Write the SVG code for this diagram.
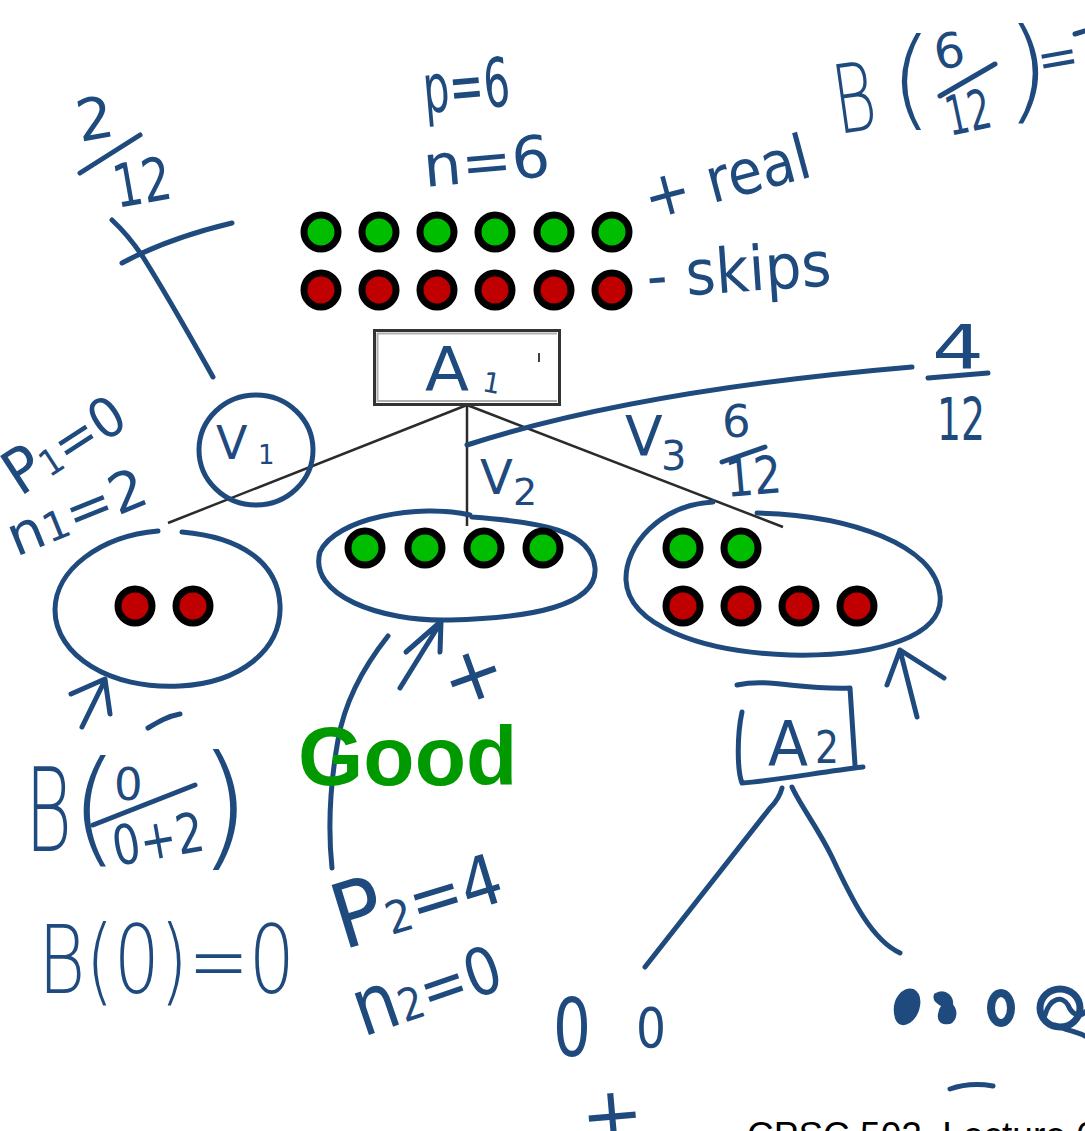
<svg xmlns="http://www.w3.org/2000/svg" width="1085" height="1131" viewBox="0 0 1085 1131">
<style>
.pos{fill:#00bd00;stroke:#000;stroke-width:7}
.neg{fill:#c00000;stroke:#000;stroke-width:7}
.edge{stroke:#2b2b2b;stroke-width:2.5;fill:none}
.ink{fill:none;stroke:#1f4a7e;stroke-width:5;stroke-linecap:round;stroke-linejoin:round}
.hw{font-family:"DejaVu Sans","Liberation Sans",sans-serif;fill:#1f4a7e}
.thin{font-weight:200}
.print{font-family:"Liberation Sans",Arial,sans-serif}
</style>
<rect width="1085" height="1131" fill="#fff"/>

<g id="connectors">
  <line class="edge" x1="467" y1="405" x2="168" y2="523"/>
  <line class="edge" x1="467" y1="405" x2="467" y2="526"/>
  <line class="edge" x1="467" y1="405" x2="783" y2="527"/>
  <path class="ink" d="M782 788 C780 796 776 802 770 808 L645 967"/>
  <path class="ink" d="M792 787 C800 805 818 828 832 857 C852 900 872 940 900 953"/>
</g>

<g id="node-examples">
  <circle class="pos" cx="321" cy="232" r="17"/>
  <circle class="pos" cx="379" cy="232" r="17"/>
  <circle class="pos" cx="437" cy="232" r="17"/>
  <circle class="pos" cx="495" cy="232" r="17"/>
  <circle class="pos" cx="554" cy="232" r="17"/>
  <circle class="pos" cx="612" cy="232" r="17"/>
  <circle class="neg" cx="321" cy="290" r="17"/>
  <circle class="neg" cx="379" cy="290" r="17"/>
  <circle class="neg" cx="437" cy="290" r="17"/>
  <circle class="neg" cx="495" cy="290" r="17"/>
  <circle class="neg" cx="554" cy="290" r="17"/>
  <circle class="neg" cx="612" cy="290" r="17"/>
  <text class="hw" x="425" y="113" font-size="68" textLength="87" lengthAdjust="spacingAndGlyphs" transform="rotate(-5 425 113)">p=6</text>
  <text class="hw" x="425" y="187" font-size="58" textLength="127" lengthAdjust="spacingAndGlyphs" transform="rotate(-5 425 187)">n=6</text>
  <text class="hw" x="650" y="220" font-size="62" textLength="170" lengthAdjust="spacingAndGlyphs" transform="rotate(-15 650 220)">+ real</text>
  <text class="hw" x="648" y="298" font-size="62" textLength="185" lengthAdjust="spacingAndGlyphs" transform="rotate(-4 648 298)">- skips</text>
</g>

<g id="node-A1">
  <rect x="374.5" y="330.5" width="185" height="74" fill="#fff" stroke="#333" stroke-width="3"/>
  <path d="M377 333.5 H557 M377.5 333 V402 M377 401 H557" stroke="#b0b0b0" stroke-width="2" fill="none"/>
  <line x1="539" y1="353" x2="539" y2="362" stroke="#000" stroke-width="1.5"/>
  <text class="hw" x="425" y="390" font-size="60" textLength="44" lengthAdjust="spacingAndGlyphs">A</text>
  <text class="hw" x="483" y="392" font-size="28" transform="rotate(10 488 382)">1</text>
</g>

<g id="node-v1">
  <path class="ink" d="M158 531 C100 536 55 570 55 610 C55 655 110 690 180 686 C240 683 282 650 280 605 C278 562 240 537 182 532"/>
  <circle class="neg" cx="135" cy="606" r="17"/>
  <circle class="neg" cx="193" cy="606" r="17"/>
  <ellipse class="ink" cx="256" cy="450" rx="57" ry="55"/>
  <text class="hw" x="216" y="459" font-size="46">V</text>
  <text class="hw" x="258" y="464" font-size="26">1</text>
</g>

<g id="node-v2">
  <path class="ink" d="M470 515 C420 503 335 518 320 552 C308 595 380 622 450 620 C530 618 598 606 595 568 C592 530 540 522 472 517"/>
  <circle class="pos" cx="365" cy="548" r="17"/>
  <circle class="pos" cx="425" cy="548" r="17"/>
  <circle class="pos" cx="484" cy="548" r="17"/>
  <circle class="pos" cx="543" cy="548" r="17"/>
  <text class="hw" x="480" y="494" font-size="48">V</text>
  <text class="hw" x="513" y="505" font-size="38">2</text>
</g>

<g id="node-v3">
  <path class="ink" d="M713 502 C660 505 625 545 626 580 C628 625 700 652 790 655 C880 657 945 635 940 595 C935 545 850 515 757 513"/>
  <circle class="pos" cx="683" cy="548" r="17"/>
  <circle class="pos" cx="741" cy="548" r="17"/>
  <circle class="neg" cx="683" cy="606" r="17"/>
  <circle class="neg" cx="741" cy="606" r="17"/>
  <circle class="neg" cx="799" cy="606" r="17"/>
  <circle class="neg" cx="857" cy="606" r="17"/>
  <text class="hw" x="625" y="455" font-size="55">V</text>
  <text class="hw" x="661" y="470" font-size="40">3</text>
</g>

<g id="node-A2">
  <path class="ink" d="M737 685 C770 678 800 690 850 688 L855 765 M863 767 C820 772 780 780 742 783 C737 770 737 735 742 712"/>
  <text class="hw" x="768" y="766" font-size="62" textLength="40" lengthAdjust="spacingAndGlyphs">A</text>
  <text class="hw" x="815" y="763" font-size="45" textLength="24" lengthAdjust="spacingAndGlyphs">2</text>
</g>

<g id="annotations">
  <text class="hw" x="80" y="142" font-size="58" transform="rotate(-10 80 142)">2</text>
  <path class="ink" d="M80 173 L140 135"/>
  <text class="hw" x="117" y="208" font-size="60" textLength="58" lengthAdjust="spacingAndGlyphs" transform="rotate(-10 117 208)">12</text>
  <path class="ink" d="M112 220 C125 232 135 245 143 257 C170 300 195 345 213 377"/>
  <path class="ink" d="M122 263 C150 248 190 233 232 223"/>

  <text class="hw thin" x="838" y="134" font-size="95" textLength="42" lengthAdjust="spacingAndGlyphs" transform="rotate(-8 838 134)">B</text>
  <text class="hw thin" x="890" y="116" font-size="108">(</text>
  <text class="hw" x="937" y="70" font-size="48" transform="rotate(-10 937 70)">6</text>
  <path class="ink" d="M940 96 L995 64"/>
  <text class="hw" x="950" y="136" font-size="55" textLength="45" lengthAdjust="spacingAndGlyphs" transform="rotate(-12 950 136)">12</text>
  <text class="hw thin" x="1006" y="108" font-size="112">)</text>
  <text class="hw" x="1040" y="78" font-size="50" transform="rotate(-10 1040 78)">=</text>
  <path class="ink" d="M1075 34 L1085 31"/>

  <path class="ink" d="M467 445 C560 415 700 385 912 367"/>
  <text class="hw" x="932" y="368" font-size="60" textLength="52" lengthAdjust="spacingAndGlyphs">4</text>
  <path class="ink" d="M928 378 L988 373"/>
  <text class="hw" x="937" y="440" font-size="58" textLength="48" lengthAdjust="spacingAndGlyphs">12</text>

  <text class="hw" x="722" y="437" font-size="45">6</text>
  <path class="ink" d="M722 462 L765 447"/>
  <text class="hw" x="727" y="497" font-size="52" textLength="56" lengthAdjust="spacingAndGlyphs" transform="rotate(-5 727 497)">12</text>

  <text class="hw" x="20" y="497" font-size="55" textLength="132" lengthAdjust="spacingAndGlyphs" transform="rotate(-33 20 497)"><tspan font-size="62">P</tspan><tspan font-size="36">1</tspan>=0</text>
  <text class="hw" x="16" y="557" font-size="55" textLength="146" lengthAdjust="spacingAndGlyphs" transform="rotate(-22 16 557)">n<tspan font-size="40">1</tspan>=2</text>

  <path class="ink" d="M82 727 L105 680 M71 694 L105 679 L110 714"/>
  <path class="ink" d="M148 728 C158 722 168 716 180 714"/>
  <text class="hw thin" x="25" y="851" font-size="115" textLength="47" lengthAdjust="spacingAndGlyphs">B</text>
  <text class="hw thin" x="70" y="850" font-size="125">(</text>
  <text class="hw" x="114" y="800" font-size="45">0</text>
  <path class="ink" d="M93 825 L195 785"/>
  <text class="hw" x="116" y="866" font-size="55" textLength="92" lengthAdjust="spacingAndGlyphs" transform="rotate(-10 116 866)">0+2</text>
  <text class="hw thin" x="198" y="852" font-size="135">)</text>
  <text class="hw thin" x="38" y="993" font-size="95" textLength="257" lengthAdjust="spacingAndGlyphs">B(0)=0</text>

  <path class="ink" d="M400 688 L441 622 M406 652 L438 624 M441 622 L440 652"/>
  <path class="ink" d="M388 636 C365 665 345 700 338 740 C330 785 328 830 332 868"/>
  <text class="hw" x="473" y="700" font-size="75" text-anchor="middle" transform="rotate(-20 473 675)">+</text>
  <text class="print" x="298" y="785" font-size="84" font-weight="bold" fill="#009900">Good</text>
  <text class="hw" x="343" y="950" font-size="70" textLength="172" lengthAdjust="spacingAndGlyphs" transform="rotate(-17 343 950)"><tspan font-size="90">P</tspan><tspan font-size="45">2</tspan>=4</text>
  <text class="hw" x="363" y="1037" font-size="65" textLength="152" lengthAdjust="spacingAndGlyphs" transform="rotate(-19 363 1037)"><tspan font-size="80">n</tspan><tspan font-size="45">2</tspan>=0</text>

  <path class="ink" d="M917 717 L900 650 M887 685 L900 650 L944 678"/>

  <text class="hw" x="553" y="1056" font-size="80" textLength="38" lengthAdjust="spacingAndGlyphs">0</text>
  <text class="hw" x="636" y="1047" font-size="55" textLength="30" lengthAdjust="spacingAndGlyphs">0</text>
  <text class="hw" x="612" y="1140" font-size="75" text-anchor="middle" transform="rotate(-5 612 1115)">+</text>
  <path d="M897 1018 C892 1000 904 988 913 991 C922 996 919 1014 909 1021 C903 1025 899 1023 897 1018 Z" fill="#1f4a7e" stroke="#1f4a7e" stroke-width="4"/>
  <path d="M936 995 C946 990 952 998 951 1005 C957 1012 955 1024 944 1022 C937 1020 940 1010 944 1005 C938 1003 934 999 936 995 Z" fill="#1f4a7e" stroke="#1f4a7e" stroke-width="4"/>
  <ellipse cx="1001" cy="1008" rx="10" ry="15" fill="none" stroke="#1f4a7e" stroke-width="8"/>
  <ellipse cx="1060" cy="1008" rx="20" ry="19" fill="none" stroke="#1f4a7e" stroke-width="7"/>
  <path class="ink" d="M1045 1015 C1050 998 1062 995 1068 1005 C1072 1015 1080 1018 1085 1012 M1055 1025 C1065 1030 1078 1032 1085 1036"/>
  <path class="ink" d="M950 1089 Q970 1082 993 1086"/>
</g>

<text class="print" x="747" y="1148" font-size="37" fill="#000">CPSC 502, Lecture 6</text>
</svg>
